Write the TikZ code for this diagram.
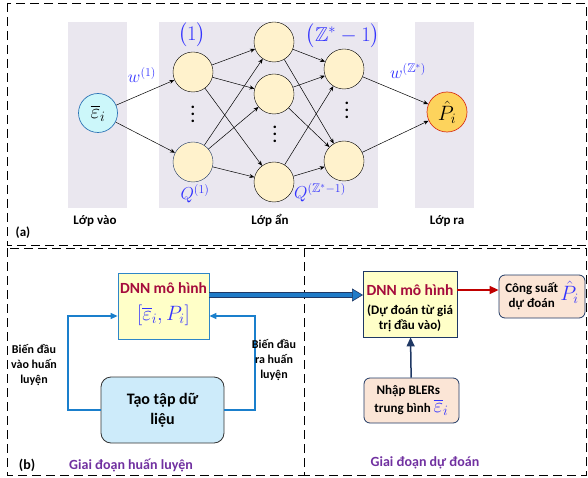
\documentclass[tikz,border=0pt]{standalone}
\usepackage{amsmath,amssymb}
\usepackage[no-math]{fontspec}
\setmainfont{Carlito}
\usetikzlibrary{arrows.meta}
\definecolor{panel}{HTML}{EAE7EF}
\definecolor{neur}{HTML}{FFF2CC}
\definecolor{incol}{HTML}{CCF7FA}
\definecolor{inbd}{HTML}{2E75B6}
\definecolor{outcol}{HTML}{FDD35C}
\definecolor{outbd}{HTML}{D9361A}
\definecolor{lblue}{HTML}{3333FF}
\definecolor{dred}{HTML}{A50B3C}
\definecolor{yfill}{HTML}{FFFFC8}
\definecolor{ybd}{HTML}{2E86C8}
\definecolor{tfill}{HTML}{CDEBFA}
\definecolor{pfill}{HTML}{FBE5D6}
\definecolor{navy}{HTML}{1F3864}
\definecolor{fbblue}{HTML}{1A7FCC}
\definecolor{bblue}{HTML}{1F7BC8}
\definecolor{rred}{HTML}{C00000}
\definecolor{purp}{HTML}{7030A0}
\tikzset{
  neuron/.style={circle,draw=black,fill=neur,minimum size=40pt,inner sep=0pt},
  conn/.style={-{Stealth[length=5pt,width=4pt]},line width=0.5pt},
  panelbox/.style={fill=panel,draw=none},
  dashframe/.style={draw=black,dash pattern=on 9pt off 5pt,line width=0.8pt},
  layerlbl/.style={font=\bfseries\fontsize{13}{15}\selectfont},
  bluelbl/.style={text=lblue,font=\fontsize{20}{20}\selectfont,inner sep=0pt},
  dotv/.style={font=\bfseries\fontsize{17}{7}\selectfont,align=center,inner sep=0pt},
  sidelbl/.style={font=\bfseries\fontsize{12}{15}\selectfont,align=center},
  phaselbl/.style={text=purp,font=\bfseries\fontsize{14}{16}\selectfont},
  peach/.style={draw=navy,fill=pfill,rounded corners=6pt,line width=0.8pt,inner sep=0pt,font=\bfseries\fontsize{13}{15}\selectfont}
}
\begin{document}
\begin{tikzpicture}[x=1pt,y=-1pt]
\useasboundingbox (0,0) rectangle (588,478);
% dashed frames
\draw[dashframe] (7,3) rectangle (586,245);
\draw[dashframe] (7,248) rectangle (304,475);
\draw[dashframe] (304,248) rectangle (586,475);
% panels
\fill[panelbox] (68,22) rectangle (127,208);
\fill[panelbox] (159,22) rectangle (378,208);
\fill[panelbox] (415,22) rectangle (474,208);
% nodes
\node[circle,draw=inbd,fill=incol,minimum size=39pt,inner sep=0pt,line width=0.7pt] (in) at (98,113) {\fontsize{22}{22}\selectfont$\overline{\varepsilon}_i$};
\node[neuron] (a1) at (193,72) {};
\node[neuron,draw=navy] (a2) at (193,162) {};
\node[neuron] (b1) at (274,42) {};
\node[neuron] (b2) at (274,94) {};
\node[neuron] (b3) at (274,182) {};
\node[neuron] (c1) at (344,69) {};
\node[neuron] (c2) at (344,161) {};
\node[circle,draw=outbd,fill=outcol,minimum size=40pt,inner sep=0pt,line width=0.7pt] (out) at (447,112) {\fontsize{22}{22}\selectfont$\hat{P}_i$};
% dots
\node[dotv] (d1) at (193,114) {.\\.\\.};
\node[dotv] (d2) at (275,134) {.\\.\\.};
\node[dotv] (d3) at (347,110) {.\\.\\.};
% connections
\foreach \s in {a1,a2} \draw[conn] (in) -- (\s);
\foreach \s in {a1,a2} \foreach \t in {b1,b2,b3} \draw[conn] (\s) -- (\t);
\foreach \s in {b1,b2,b3} \foreach \t in {c1,c2} \draw[conn] (\s) -- (\t);
\foreach \s in {c1,c2} \draw[conn] (\s) -- (out);
% labels
\node[bluelbl] (l1) at (192,35) {$\bigl(1\bigr)$};
\node[bluelbl] (l2) at (343,36) {$\bigl(\mathbb{Z}^{*}-1\bigr)$};
\node[bluelbl,font=\fontsize{18}{18}\selectfont] (w1) at (142,75) {$w^{(1)}$};
\node[bluelbl,font=\fontsize{18}{18}\selectfont] (w2) at (408,71) {$w^{\left(\mathbb{Z}^{*}\right)}$};
\node[bluelbl,font=\fontsize{18}{18}\selectfont] (q1) at (195,194) {$Q^{(1)}$};
\node[bluelbl,font=\fontsize{18}{18}\selectfont] (q2) at (320,193) {$Q^{\left(\mathbb{Z}^{*}-1\right)}$};
\node[layerlbl] (lv) at (95,221) {Lớp vào};
\node[layerlbl] (la) at (270,220) {Lớp ẩn};
\node[layerlbl] (lr) at (447,221) {Lớp ra};
\node[layerlbl] (pa) at (23,233) {(a)};
% ---- bottom left
\node[draw=ybd,fill=yfill,line width=0.8pt,minimum width=91pt,minimum height=66pt,inner sep=0pt] (dnn1) at (163.5,306) {};
\node[text=dred,font=\bfseries\fontsize{15.5}{17}\selectfont,inner sep=0pt] (t1) at (163.5,288) {DNN mô hình};
\node[text=lblue,font=\fontsize{21}{21}\selectfont,inner sep=0pt] (t2) at (163.5,315) {$\left[\overline{\varepsilon}_i,P_i\right]$};
\node[draw=black!80,fill=tfill,rounded corners=10pt,line width=0.8pt,minimum width=123pt,minimum height=66pt,align=center,font=\bfseries\fontsize{16}{20}\selectfont,inner sep=0pt] (tao) at (162.5,410) {Tạo tập dữ\\liệu};
\coordinate (lc) at (68,316);
\coordinate (rc) at (255,316);
\draw[fbblue,line width=1.2pt,-{Triangle[length=7pt,width=6pt]}] (tao.west) -| (lc) -- (lc -| dnn1.west);
\draw[fbblue,line width=1.2pt,-{Triangle[length=7pt,width=6pt]}] (tao.east) -| (rc) -- (rc -| dnn1.east);
\node[sidelbl] (s1) at (34,365) {Biến đầu\\vào huấn\\luyện};
\node[sidelbl] (s2) at (274,360) {Biến đầu\\ra huấn\\luyện};
\node[layerlbl,font=\bfseries\fontsize{14}{16}\selectfont] (pb) at (27,465) {(b)};
\node[phaselbl] (ph1) at (131,465) {Giai đoạn huấn luyện};
% ---- bottom right
\node[draw=navy,fill=yfill,line width=0.8pt,minimum width=94pt,minimum height=66pt,inner sep=0pt] (dnn2) at (410,304) {};
\node[text=dred,font=\bfseries\fontsize{15.5}{17}\selectfont,inner sep=0pt] (t3) at (410,290) {DNN mô hình};
\node[font=\bfseries\fontsize{13}{15}\selectfont,align=center,inner sep=0pt] (t4) at (410,318) {(Dự đoán từ giá\\trị đầu vào)};
\node[peach,minimum width=86pt,minimum height=43pt] (cs) at (542,296.5) {\begin{tabular}{@{}c@{}}Công suất\\dự đoán\end{tabular}\,{\color{lblue}\fontsize{20}{20}\selectfont$\hat{P}_i$}};
\node[peach,minimum width=95pt,minimum height=45pt] (np) at (411.5,400.5) {\begin{tabular}{@{}l@{}}\,Nhập BLERs\\trung bình\ {\color{lblue}\fontsize{20}{18}\selectfont$\overline{\varepsilon}_i$}\end{tabular}};
\draw[rred,line width=1.5pt,-{Triangle[length=9pt,width=8pt]}] (dnn2.east |- t3) -- (cs.west |- t3);
\draw[navy,line width=1.5pt,-{Triangle[length=9pt,width=8pt]}] (np) -- (dnn2);
\coordinate (ba) at (209,295);
\coordinate (bb) at (363,295);
\draw[navy,line width=6pt] (ba) -- ([xshift=-8pt]bb);
\draw[bblue,line width=3.5pt] (ba) -- ([xshift=-8pt]bb);
\draw[navy,line width=0.6pt,-{Triangle[length=11pt,width=13pt,fill=bblue]}] ([xshift=-10pt]bb) -- (bb);
\node[phaselbl] (ph2) at (425,463) {Giai đoạn dự đoán};
\end{tikzpicture}
\end{document}
